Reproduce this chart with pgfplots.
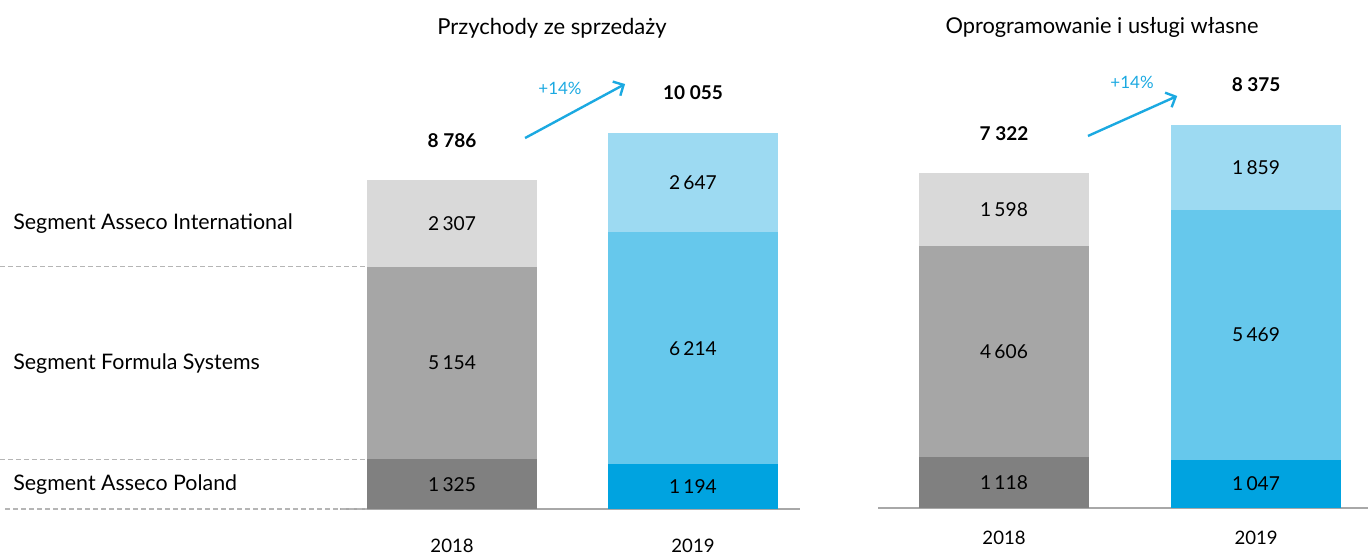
\documentclass[border=0pt]{standalone}
\usepackage{pgfplots}
\pgfplotsset{compat=1.18}
\usepackage{fontspec}
\setmainfont{Lato}
\usetikzlibrary{arrows.meta}
\definecolor{gP}{HTML}{808080}
\definecolor{gF}{HTML}{A6A6A6}
\definecolor{gI}{HTML}{D9D9D9}
\definecolor{bP}{HTML}{00A3E0}
\definecolor{bF}{HTML}{66C8EC}
\definecolor{bI}{HTML}{9DDAF2}
\definecolor{arr}{HTML}{1BA9E1}
\definecolor{dashg}{HTML}{B5B5B5}
\definecolor{axg}{HTML}{A8A8A8}
\tikzset{
  inlab/.style={font=\fontsize{9.6}{11}\selectfont, text=black},
  totlab/.style={font=\fontsize{9.5}{11}\selectfont\bfseries},
}
\pgfplotsset{
  panel/.style={
    scale only axis, ymin=0, enlargelimits=false, clip=false,
    ybar stacked, bar width=85pt,
    axis x line=bottom, axis y line=none,
    x axis line style={-, draw=axg, line width=0.8pt},
    xtick={0,1}, xticklabels={2018,2019}, xtick style={draw=none},
    major tick length=0pt,
    ytick=\empty,
  },
}
\begin{document}
\begin{tikzpicture}
\path[use as bounding box] (0,0) rectangle (684pt,280pt);
% Left panel
\node[font=\fontsize{11}{13}\selectfont] at (276pt,266pt) {Przychody ze sprzedaży};
\begin{axis}[panel,
  at={(170pt,25.5pt)}, anchor=south west,
  width=230pt, height=188pt,
  xmin=-0.465, xmax=1.444, ymax=10055,
  xticklabel style={font=\fontsize{9.3}{10}\selectfont, yshift=-11.5pt},
]
\addplot[fill=gP, draw=none] coordinates {(0,1325) (1,0)};
\addplot[fill=bP, draw=none] coordinates {(0,0) (1,1194)};
\addplot[fill=gF, draw=none] coordinates {(0,5154) (1,0)};
\addplot[fill=bF, draw=none] coordinates {(0,0) (1,6214)};
\addplot[fill=gI, draw=none] coordinates {(0,2307) (1,0)};
\addplot[fill=bI, draw=none] coordinates {(0,0) (1,2647)};
\coordinate (La1) at (axis cs:0,662.5);
\coordinate (La2) at (axis cs:0,3902);
\coordinate (La3) at (axis cs:0,7632.5);
\coordinate (La4) at (axis cs:1,597);
\coordinate (La5) at (axis cs:1,4301);
\coordinate (La6) at (axis cs:1,8731.5);
\node[totlab] at (axis cs:0,8786) [yshift=20pt] {8 786};
\node[totlab] at (axis cs:1,10055) [yshift=20pt] {10 055};
\draw[arr, line width=1.2pt, -{Straight Barb[length=4pt,width=8pt]}] (axis cs:0.303,9920) -- (axis cs:0.718,11364);
\node[text=arr, font=\fontsize{8.5}{10}\selectfont] at (axis cs:0.448,11257) {+14\%};
\draw[dashg, line width=0.6pt, dash pattern=on 2.5pt off 1.5pt] (axis cs:-1.876,6479) -- (axis cs:-0.353,6479);
\draw[dashg, line width=0.6pt, dash pattern=on 2.5pt off 1.5pt] (axis cs:-1.876,1325) -- (axis cs:-0.353,1325);
\draw[dashg, line width=0.6pt, dash pattern=on 2.5pt off 1.5pt] (axis cs:-1.855,0) -- (axis cs:-0.353,0);
\node[anchor=west, font=\fontsize{10.7}{12}\selectfont] at (axis cs:-1.85,7632.5) {Segment Asseco International};
\node[anchor=west, font=\fontsize{10.7}{12}\selectfont] at (axis cs:-1.85,3902) {Segment Formula Systems};
\node[anchor=west, font=\fontsize{10.7}{12}\selectfont] at (axis cs:-1.85,662.5) {Segment Asseco Poland};
\end{axis}
\node[inlab] at (La1) {1\,325};
\node[inlab] at (La2) {5\,154};
\node[inlab] at (La3) {2\,307};
\node[inlab] at (La4) {1\,194};
\node[inlab] at (La5) {6\,214};
\node[inlab] at (La6) {2\,647};
% Right panel
\node[font=\fontsize{10.9}{13}\selectfont] at (551pt,266.5pt) {Oprogramowanie i usługi własne};
\begin{axis}[panel,
  at={(439pt,26pt)}, anchor=south west,
  width=245pt, height=191.5pt,
  xmin=-0.5, xmax=1.444, ymax=8375,
  xticklabel style={font=\fontsize{9.3}{10}\selectfont, yshift=-8pt},
]
\addplot[fill=gP, draw=none] coordinates {(0,1118) (1,0)};
\addplot[fill=bP, draw=none] coordinates {(0,0) (1,1047)};
\addplot[fill=gF, draw=none] coordinates {(0,4606) (1,0)};
\addplot[fill=bF, draw=none] coordinates {(0,0) (1,5469)};
\addplot[fill=gI, draw=none] coordinates {(0,1598) (1,0)};
\addplot[fill=bI, draw=none] coordinates {(0,0) (1,1859)};
\coordinate (Lb1) at (axis cs:0,559);
\coordinate (Lb2) at (axis cs:0,3421);
\coordinate (Lb3) at (axis cs:0,6523);
\coordinate (Lb4) at (axis cs:1,523.5);
\coordinate (Lb5) at (axis cs:1,3781.5);
\coordinate (Lb6) at (axis cs:1,7445.5);
\node[totlab] at (axis cs:0,7322) [yshift=20pt] {7 322};
\node[totlab] at (axis cs:1,8375) [yshift=20pt] {8 375};
\draw[arr, line width=1.2pt, -{Straight Barb[length=4pt,width=8pt]}] (axis cs:0.333,8135) -- (axis cs:0.687,9009);
\node[text=arr, font=\fontsize{8.5}{10}\selectfont] at (axis cs:0.508,9315) {+14\%};
\end{axis}
\node[inlab] at (Lb1) {1\,118};
\node[inlab] at (Lb2) {4\,606};
\node[inlab] at (Lb3) {1\,598};
\node[inlab] at (Lb4) {1\,047};
\node[inlab] at (Lb5) {5\,469};
\node[inlab] at (Lb6) {1\,859};
\end{tikzpicture}
\end{document}
